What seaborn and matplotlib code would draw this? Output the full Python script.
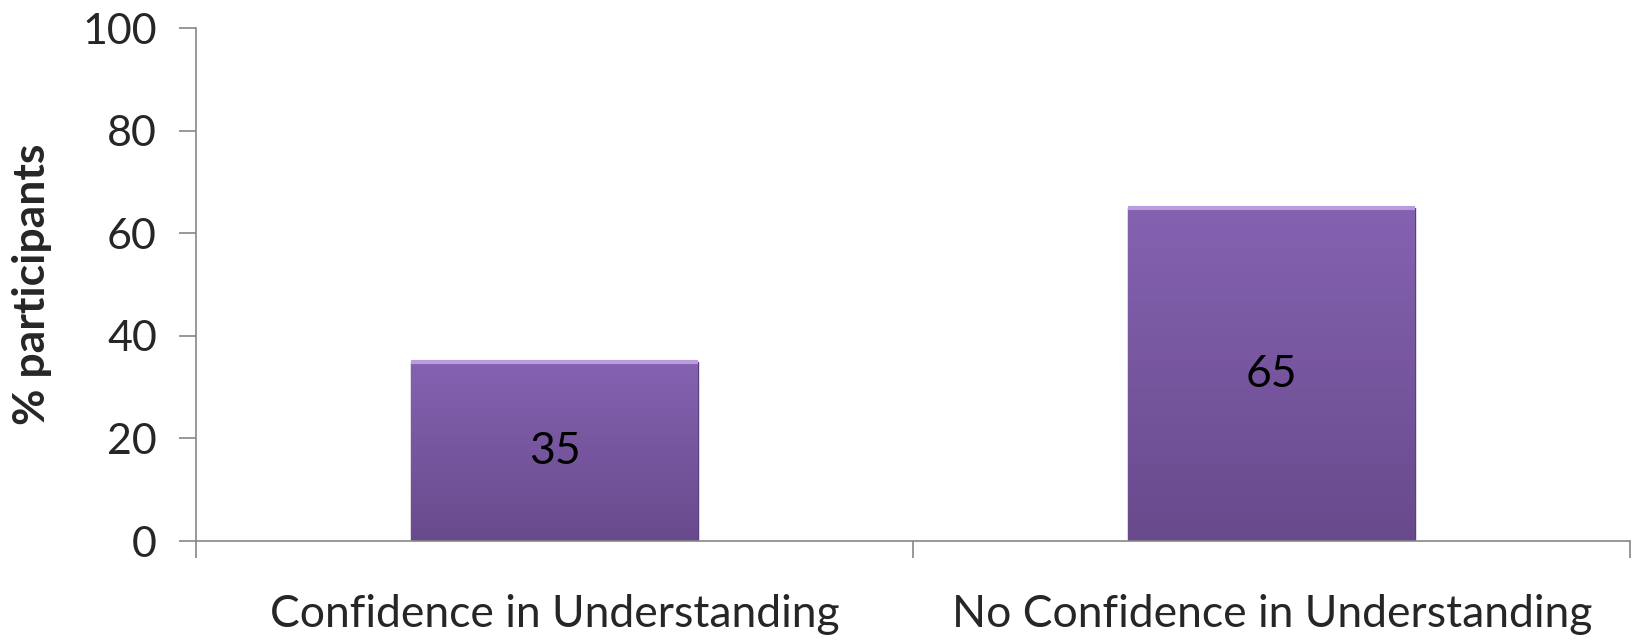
import numpy as np
import pandas as pd
import matplotlib
matplotlib.use("Agg")
import matplotlib.pyplot as plt
import seaborn as sns

categories = ["Confidence in Understanding", "No Confidence in Understanding"]
percent = [35, 65]
y_ticks = [0, 20, 40, 60, 80, 100]

df = pd.DataFrame({"category": categories, "percent": percent})

sns.set_style("white")
plt.rcParams["font.family"] = ["Lato", "DejaVu Sans"]

fig = plt.figure(figsize=(16.32, 6.41), dpi=100)
ax = fig.add_axes([0.120, 0.156, 0.879, 0.800])

sns.barplot(data=df, x="category", y="percent", color="#7a57a2", width=0.4,
            edgecolor="#5a3f7c", linewidth=1.0, ax=ax)

# vertical gradient fill clipped to each bar
grad = np.linspace(0, 1, 256).reshape(-1, 1)
cmap = matplotlib.colors.LinearSegmentedColormap.from_list(
    "bar", ["#684a8c", "#8562b1"])
for p in ax.patches:
    x0, y0 = p.get_x(), p.get_y()
    w, h = p.get_width(), p.get_height()
    im = ax.imshow(grad, cmap=cmap, aspect="auto", origin="lower",
                   extent=[x0, x0 + w, y0, y0 + h], zorder=p.get_zorder() + 0.1)
    im.set_clip_path(p)
    # light top bevel
    ax.plot([x0, x0 + w], [y0 + h, y0 + h], color="#b99be0", lw=3,
            solid_capstyle="butt", zorder=p.get_zorder() + 0.2)

ax.bar_label(ax.containers[0], labels=[str(v) for v in percent],
             label_type="center", fontsize=32, color="black", zorder=5)

ax.set_xlim(-0.5, 1.5)
ax.set_ylim(0, 100)
ax.set_yticks(y_ticks)
ax.set_yticklabels([str(t) for t in y_ticks], fontsize=31)
ax.set_xticks([0, 1])
ax.set_xticklabels(categories, fontsize=32)
ax.set_xticks([-0.5, 0.5, 1.5], minor=True)
ax.tick_params(axis="x", which="major", bottom=True, length=0, pad=38)
ax.tick_params(axis="x", which="minor", bottom=True, length=12, width=1.2,
               color="#868686", direction="out")
ax.tick_params(axis="y", left=True, length=12, width=1.2, color="#868686",
               direction="out", pad=16)

ax.set_xlabel("")
ax.set_ylabel("% participants", fontsize=32, fontweight="bold", labelpad=22)

for s in ["top", "right"]:
    ax.spines[s].set_visible(False)
for s in ["left", "bottom"]:
    ax.spines[s].set_color("#868686")
    ax.spines[s].set_linewidth(1.2)

fig.savefig("out.png", dpi=100, facecolor="white")
